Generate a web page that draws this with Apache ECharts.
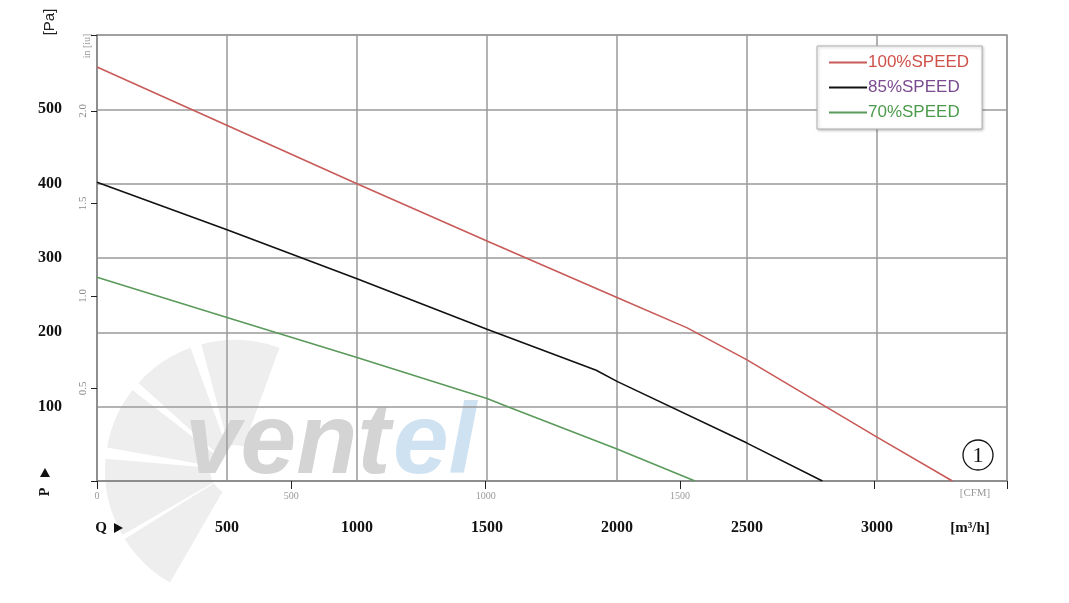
<!DOCTYPE html>
<html><head><meta charset="utf-8">
<script src="https://cdn.jsdelivr.net/npm/echarts@6/dist/echarts.min.js"></script>
<style>html,body{margin:0;padding:0;background:#fff}#c{width:1069px;height:603px}</style>
</head><body><div id="c"></div>
<script>
// Data (Q in m³/h, P in Pa)
const speed100 = [[0,557],[1000,400],[1500,323],[2000,247],[2270,206],[2500,163],[3000,59],[3290,0]];
const speed85  = [[0,402],[500,338],[1000,272],[1500,204],[1920,149],[2000,134],[2500,51],[2790,0]];
const speed70  = [[0,274],[500,220],[1000,166],[1500,111],[1580,100],[2000,43],[2300,0]];
const seriesNames = ['100%SPEED','85%SPEED','70%SPEED'];
const qTicks = [0,500,1000,1500,2000,2500,3000,3500];
const pTicks = [0,100,200,300,400,500,600];
const cfmTicks = [0,500,1000,1500];
const inTicks = [0,0.5,1.0,1.5,2.0];

const chart = echarts.init(document.getElementById('c'));
const gridCol = '#9a9a9a';
const serif = '"Liberation Serif", "DejaVu Serif", serif';
const sans = '"Liberation Sans", Arial, sans-serif';

const blades = [];
const cx = 235, cy = 470;
[[150,185],[190,218],[222,250],[255,290],[120,148]].forEach(([a,b]) => {
  blades.push({type:'sector', z:-10, silent:true,
    shape:{cx:cx, cy:cy, r:130, r0:25, startAngle:a*Math.PI/180, endAngle:b*Math.PI/180},
    style:{fill:'#eeeeee'}});
});

chart.setOption({
  animation:false,
  grid:{left:97, right:62, top:35, bottom:122, show:true, borderColor:gridCol, borderWidth:1.5, backgroundColor:'transparent'},
  legend:{
    orient:'vertical', left:817, top:46,
    padding:[8,13,8,12], itemGap:8, itemWidth:38, itemHeight:2, icon:'rect',
    backgroundColor:'#fff', borderColor:'#b0b0b0', borderWidth:1,
    shadowColor:'rgba(0,0,0,0.25)', shadowBlur:3, shadowOffsetX:1, shadowOffsetY:1,
    textStyle:{fontFamily:sans, fontSize:17, padding:[0,0,0,-4]},
    data:[
      {name:seriesNames[0], textStyle:{color:'#d0504a'}},
      {name:seriesNames[1], textStyle:{color:'#7a4a90'}},
      {name:seriesNames[2], textStyle:{color:'#4c9a4c'}}
    ]
  },
  xAxis:[
    {type:'value', min:qTicks[0], max:qTicks[qTicks.length-1], interval:500, position:'bottom',
     axisLine:{show:true, lineStyle:{color:'#888', width:1.5}}, axisTick:{show:false},
     axisLabel:{margin:39, fontFamily:serif, fontSize:16, fontWeight:'bold', color:'#111',
       formatter:v => (v===0 || v===3500) ? '' : String(v)},
     splitLine:{show:true, lineStyle:{color:gridCol, width:1.5}}},
    {type:'value', min:0, max:2341, interval:500, position:'bottom',
     axisLine:{show:false}, axisTick:{show:true, length:8, lineStyle:{color:'#222'}},
     axisLabel:{margin:10, fontFamily:serif, fontSize:10, color:'#999',
       formatter:v => cfmTicks.includes(v) ? String(v) : ''},
     splitLine:{show:false}}
  ],
  yAxis:[
    {type:'value', min:pTicks[0], max:pTicks[pTicks.length-1], interval:100, position:'left',
     axisLine:{show:true, lineStyle:{color:'#888', width:1.5}}, axisTick:{show:false},
     axisLabel:{margin:35, fontFamily:serif, fontSize:16, fontWeight:'bold', color:'#111',
       formatter:v => (v===0 || v===600) ? '' : String(v)},
     splitLine:{show:true, lineStyle:{color:gridCol, width:1.5}}},
    {type:'value', min:0, max:600/249, interval:0.5, position:'left',
     axisLine:{show:false}, axisTick:{show:true, length:6, lineStyle:{color:'#222'}},
     axisLabel:{margin:8, rotate:90, fontFamily:serif, fontSize:11, color:'#888',
       formatter:v => (inTicks.includes(v) && v>0) ? v.toFixed(1) : ''},
     splitLine:{show:false}}
  ],
  series:[
    {name:seriesNames[0], type:'line', data:speed100, symbol:'none', color:'#c85a58', lineStyle:{width:1.6, color:'#c85a58'}},
    {name:seriesNames[1], type:'line', data:speed85, symbol:'none', color:'#111', lineStyle:{width:1.6, color:'#111'}},
    {name:seriesNames[2], type:'line', data:speed70, symbol:'none', color:'#5a9a5a', lineStyle:{width:1.6, color:'#5a9a5a'}}
  ],
  graphic:[
    ...blades,
    {type:'text', z:-9, silent:true, x:185, y:395, style:{text:'vent', font:'italic bold 100px "Liberation Sans", Arial, sans-serif', fill:'#d4d4d4'}},
    {type:'text', z:-9, silent:true, x:393, y:395, style:{text:'el', font:'italic bold 100px "Liberation Sans", Arial, sans-serif', fill:'#cfe2f2'}},
    {type:'text', x:50, y:22, rotation:Math.PI/2, style:{text:'[Pa]', font:'15px '+sans, fill:'#222', align:'center', verticalAlign:'middle'}},
    {type:'text', x:87, y:46, rotation:Math.PI/2, style:{text:'in [iu]', font:'10px '+serif, fill:'#999', align:'center', verticalAlign:'middle'}},
    {type:'polygon', shape:{points:[[40,477],[50,477],[45,468]]}, style:{fill:'#111'}},
    {type:'text', x:45, y:492, rotation:Math.PI/2, style:{text:'P', font:'bold 14px '+serif, fill:'#111', align:'center', verticalAlign:'middle'}},
    {type:'text', x:101, y:528, style:{text:'Q', font:'bold 15px '+serif, fill:'#111', align:'center', verticalAlign:'middle'}},
    {type:'polygon', shape:{points:[[114,523],[114,533],[123,528]]}, style:{fill:'#111'}},
    {type:'text', x:970, y:528, style:{text:'[m³/h]', font:'bold 15px '+serif, fill:'#111', align:'center', verticalAlign:'middle'}},
    {type:'text', x:975, y:493, style:{text:'[CFM]', font:'11px '+serif, fill:'#999', align:'center', verticalAlign:'middle'}},
    {type:'circle', shape:{cx:978, cy:455, r:15}, style:{fill:'none', stroke:'#111', lineWidth:1.3}},
    {type:'text', x:978, y:456, style:{text:'1', font:'22px '+serif, fill:'#111', align:'center', verticalAlign:'middle'}}
  ]
});
</script></body></html>
